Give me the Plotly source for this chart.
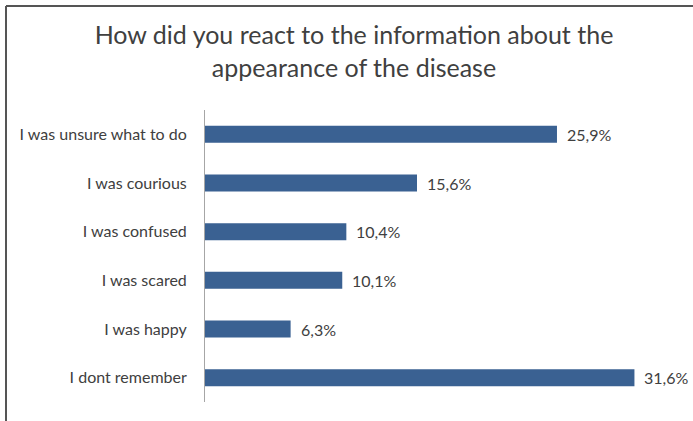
import plotly.graph_objects as go

categories = ["I was unsure what to do", "I was courious", "I was confused",
              "I was scared", "I was happy", "I dont remember"]
values = [25.9, 15.6, 10.4, 10.1, 6.3, 31.6]
labels = ["25,9%", "15,6%", "10,4%", "10,1%", "6,3%", "31,6%"]

font_family = "Lato, 'Open Sans', sans-serif"
text_color = "#404040"

fig = go.Figure(go.Bar(
    x=values, y=categories, orientation="h",
    marker=dict(color="#3a6192", line=dict(width=0)),
    width=0.35, hoverinfo="skip",
))

for v, c, t in zip(values, categories, labels):
    fig.add_annotation(x=v, y=c, text=t, showarrow=False, xanchor="left",
                       xshift=8, font=dict(size=16, color=text_color, family=font_family))

L, R, T, B = 205, 0, 110, 19
W, H = 693, 421
pw = W - L - R
ph = H - T - B
bx = (6 - L) / pw
by = (H - B - 6) / ph

fig.add_shape(type="line", xref="paper", yref="paper", x0=bx, x1=(W - L) / pw + 0.01,
              y0=by, y1=by, line=dict(color="#555555", width=2))
fig.add_shape(type="line", xref="paper", yref="paper", x0=bx, x1=bx,
              y0=by, y1=-B / ph - 0.05, line=dict(color="#555555", width=2))

fig.update_layout(
    width=W, height=H,
    margin=dict(l=L, r=R, t=T, b=B),
    paper_bgcolor="white", plot_bgcolor="white",
    showlegend=False,
    title=dict(text="How did you react to the information about the<br>appearance of the disease",
               x=354 / W, xanchor="center", y=1 - 44 / H, yanchor="middle",
               font=dict(size=25, color=text_color, family=font_family)),
    xaxis=dict(range=[0, pw / 13.59], visible=False, fixedrange=True),
    yaxis=dict(autorange="reversed", showline=True, linecolor="#a6a6a6", linewidth=1,
               showgrid=False, ticks="", ticklabelstandoff=14,
               tickfont=dict(size=16, color=text_color, family=font_family)),
)

fig.write_html("out.html")
